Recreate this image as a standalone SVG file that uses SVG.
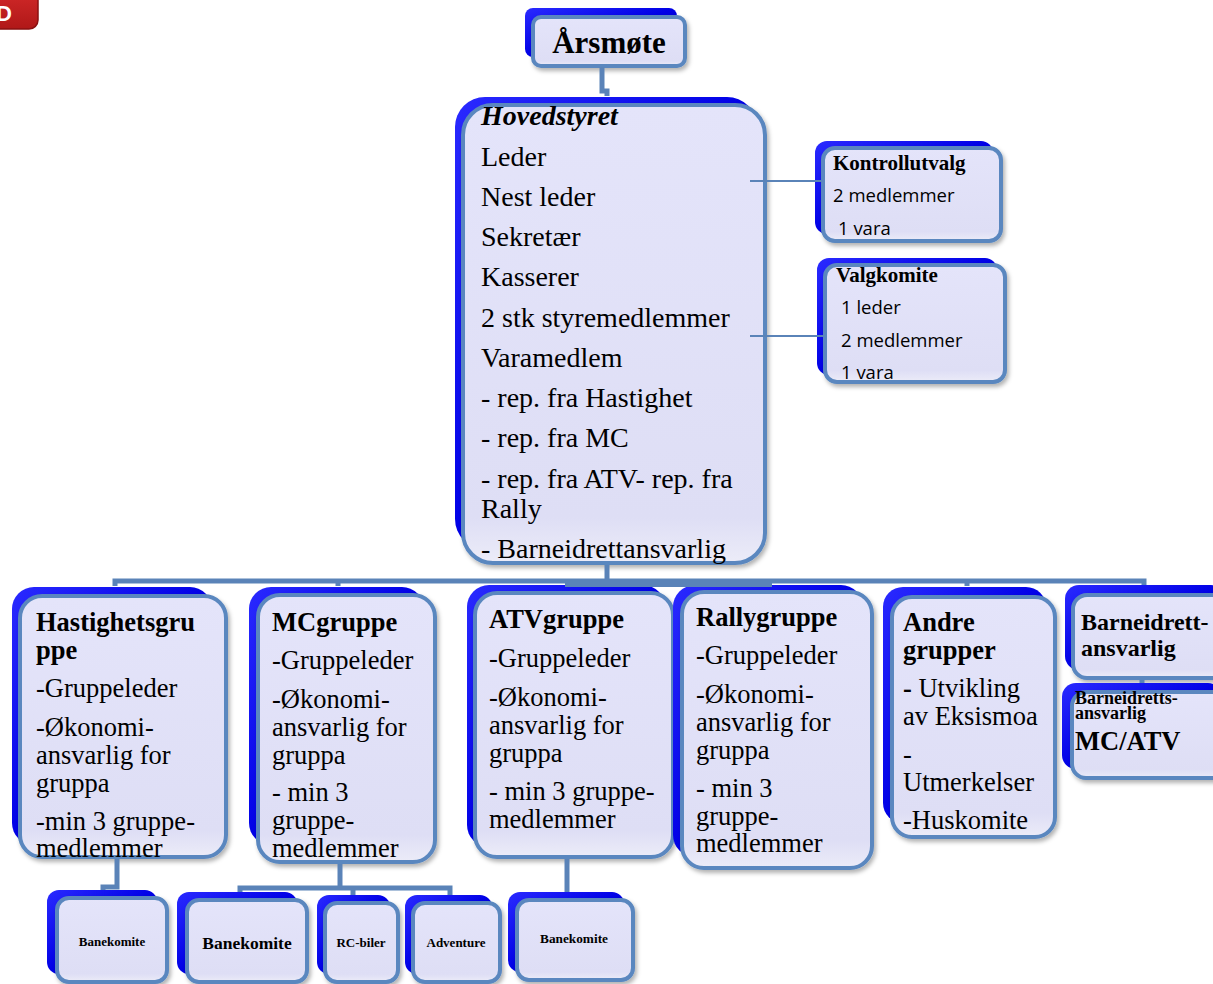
<svg xmlns="http://www.w3.org/2000/svg" width="1213" height="984" viewBox="0 0 1213 984">
<defs>
<linearGradient id="blue" x1="0" y1="0" x2="1" y2="1">
<stop offset="0" stop-color="#2a2aff"/>
<stop offset="0.5" stop-color="#0000e6"/>
<stop offset="1" stop-color="#0000a8"/>
</linearGradient>
<linearGradient id="lav" x1="0" y1="0" x2="0" y2="1">
<stop offset="0" stop-color="#e4e4fa"/>
<stop offset="0.9" stop-color="#dedef5"/>
<stop offset="1" stop-color="#ececf8"/>
</linearGradient>
<filter id="sh" x="-10%" y="-10%" width="130%" height="130%">
<feDropShadow dx="2" dy="3" stdDeviation="2" flood-color="#000" flood-opacity="0.3"/>
</filter>
<linearGradient id="red" x1="0" y1="0" x2="0" y2="1">
<stop offset="0" stop-color="#d42a2a"/>
<stop offset="1" stop-color="#b01818"/>
</linearGradient>
</defs>
<style>
.back{fill:url(#blue);}
.front{fill:url(#lav);stroke:#5a87bf;stroke-width:4;filter:url(#sh);}
.conn{fill:none;stroke:#5a83b8;stroke-width:5;}
.thin{fill:none;stroke:#5a83b8;stroke-width:2;}
.t{font-family:"Liberation Serif","Times New Roman",serif;fill:#000;}
.b{font-weight:bold;}
.s{font-family:"Open Sans","Liberation Sans",sans-serif;fill:#000;font-size:18.5px;}
.h{font-size:28px;}
.g{font-size:26.5px;}
.m{text-anchor:middle;}
</style>
<rect width="1213" height="984" fill="#ffffff"/>

<g id="badge">
<rect x="-60" y="-12" width="98" height="41" rx="9" fill="url(#red)" stroke="#8a1010" stroke-width="1.5"/>
<text x="12" y="21" text-anchor="end" font-family="Liberation Sans, sans-serif" font-weight="bold" font-size="22" fill="#ffffff">D</text>
</g>

<g id="aarsmote">
<rect class="back" x="525" y="8" width="152" height="49" rx="8"/>
<rect class="front" x="533" y="17" width="152" height="49" rx="8"/>
<text class="t b m" x="609" y="53" font-size="31">Årsmøte</text>
</g>

<g id="hovedstyret">
<rect class="back" x="455" y="97" width="302" height="452" rx="30"/>
<rect class="front" x="463" y="105" width="302" height="458" rx="30"/>
<text class="t h" x="481" y="125" font-weight="bold" font-style="italic">Hovedstyret</text>
<text class="t h" x="481" y="166">Leder</text>
<text class="t h" x="481" y="206">Nest leder</text>
<text class="t h" x="481" y="246">Sekretær</text>
<text class="t h" x="481" y="286">Kasserer</text>
<text class="t h" x="481" y="327">2 stk styremedlemmer</text>
<text class="t h" x="481" y="367">Varamedlem</text>
<text class="t h" x="481" y="407">- rep. fra Hastighet</text>
<text class="t h" x="481" y="447">- rep. fra MC</text>
<text class="t h" x="481" y="488">- rep. fra ATV- rep. fra</text>
<text class="t h" x="481" y="518">Rally</text>
<text class="t h" x="481" y="558">- Barneidrettansvarlig</text>
</g>

<g id="kontrollutvalg">
<rect class="back" x="815" y="141" width="178" height="93" rx="12"/>
<rect class="front" x="823" y="148" width="178" height="93" rx="12"/>
<text class="t b" x="833" y="170" font-size="21">Kontrollutvalg</text>
<text class="s" x="833" y="202">2 medlemmer</text>
<text class="s" x="838" y="235">1 vara</text>
</g>

<g id="valgkomite">
<rect class="back" x="817" y="258" width="180" height="117" rx="12"/>
<rect class="front" x="825" y="265" width="180" height="117" rx="12"/>
<text class="t b" x="836" y="282" font-size="21">Valgkomite</text>
<text class="s" x="841" y="314">1 leder</text>
<text class="s" x="841" y="347">2 medlemmer</text>
<text class="s" x="841" y="379">1 vara</text>
</g>

<g id="hastighetsgruppe">
<rect class="back" x="12" y="587" width="200" height="258" rx="22"/>
<rect class="front" x="20" y="596" width="206" height="261" rx="22"/>
<text class="t g b" x="36" y="631">Hastighetsgru</text>
<text class="t g b" x="36" y="659">ppe</text>
<text class="t g" x="36" y="697">-Gruppeleder</text>
<text class="t g" x="36" y="736">-Økonomi-</text>
<text class="t g" x="36" y="764">ansvarlig for</text>
<text class="t g" x="36" y="792">gruppa</text>
<text class="t g" x="36" y="830">-min 3 gruppe-</text>
<text class="t g" x="36" y="857">medlemmer</text>
</g>

<g id="mcgruppe">
<rect class="back" x="249" y="587" width="175" height="258" rx="22"/>
<rect class="front" x="258" y="595" width="177" height="267" rx="22"/>
<text class="t g b" x="272" y="631">MCgruppe</text>
<text class="t g" x="272" y="669">-Gruppeleder</text>
<text class="t g" x="272" y="708">-Økonomi-</text>
<text class="t g" x="272" y="736">ansvarlig for</text>
<text class="t g" x="272" y="764">gruppa</text>
<text class="t g" x="272" y="801">- min 3</text>
<text class="t g" x="272" y="829">gruppe-</text>
<text class="t g" x="272" y="857">medlemmer</text>
</g>

<g id="atvgruppe">
<rect class="back" x="467" y="585" width="198" height="262" rx="22"/>
<rect class="front" x="475" y="593" width="198" height="264" rx="22"/>
<text class="t g b" x="489" y="628">ATVgruppe</text>
<text class="t g" x="489" y="667">-Gruppeleder</text>
<text class="t g" x="489" y="706">-Økonomi-</text>
<text class="t g" x="489" y="734">ansvarlig for</text>
<text class="t g" x="489" y="762">gruppa</text>
<text class="t g" x="489" y="800">- min 3 gruppe-</text>
<text class="t g" x="489" y="828">medlemmer</text>
</g>

<g id="rallygruppe">
<rect class="back" x="673" y="585" width="190" height="272" rx="22"/>
<rect class="front" x="682" y="592" width="190" height="276" rx="22"/>
<text class="t g b" x="696" y="626">Rallygruppe</text>
<text class="t g" x="696" y="664">-Gruppeleder</text>
<text class="t g" x="696" y="703">-Økonomi-</text>
<text class="t g" x="696" y="731">ansvarlig for</text>
<text class="t g" x="696" y="759">gruppa</text>
<text class="t g" x="696" y="797">- min 3</text>
<text class="t g" x="696" y="825">gruppe-</text>
<text class="t g" x="696" y="852">medlemmer</text>
</g>

<g id="andregrupper">
<rect class="back" x="883" y="587" width="163" height="236" rx="20"/>
<rect class="front" x="892" y="597" width="163" height="240" rx="20"/>
<text class="t g b" x="903" y="631">Andre</text>
<text class="t g b" x="903" y="659">grupper</text>
<text class="t g" x="903" y="697"><tspan font-weight="bold">-</tspan> Utvikling</text>
<text class="t g" x="903" y="725">av Eksismoa</text>
<text class="t g" x="903" y="763">-</text>
<text class="t g" x="903" y="791">Utmerkelser</text>
<text class="t g" x="903" y="829">-Huskomite</text>
</g>

<g id="barneidrett">
<rect class="back" x="1065" y="585" width="160" height="85" rx="14"/>
<rect class="front" x="1073" y="595" width="160" height="83" rx="14"/>
<text class="t b" x="1081" y="630" font-size="24">Barneidrett-</text>
<text class="t b" x="1081" y="656" font-size="24">ansvarlig</text>
</g>

<g id="barneidrett-mcatv">
<rect class="back" x="1062" y="683" width="160" height="86" rx="14"/>
<rect class="front" x="1072" y="692" width="160" height="86" rx="14"/>
<text class="t b" x="1075" y="704" font-size="18">Barneidretts-</text>
<text class="t b" x="1075" y="719" font-size="18">ansvarlig</text>
<text class="t b" x="1075" y="750" font-size="26.5">MC/ATV</text>
</g>

<g id="banekomite-hast">
<rect class="back" x="47" y="890" width="110" height="84" rx="12"/>
<rect class="front" x="57" y="898" width="110" height="84" rx="12"/>
<text class="t b m" x="112" y="946" font-size="13">Banekomite</text>
</g>

<g id="banekomite-mc">
<rect class="back" x="177" y="892" width="120" height="82" rx="12"/>
<rect class="front" x="187" y="900" width="120" height="82" rx="12"/>
<text class="t b m" x="247" y="949" font-size="17.5">Banekomite</text>
</g>

<g id="rc-biler">
<rect class="back" x="317" y="895" width="73" height="79" rx="12"/>
<rect class="front" x="325" y="903" width="73" height="79" rx="12"/>
<text class="t b m" x="361" y="947" font-size="13">RC-biler</text>
</g>

<g id="adventure">
<rect class="back" x="405" y="895" width="87" height="79" rx="12"/>
<rect class="front" x="413" y="903" width="87" height="79" rx="12"/>
<text class="t b m" x="456" y="947" font-size="13">Adventure</text>
</g>

<g id="banekomite-atv">
<rect class="back" x="508" y="892" width="116" height="80" rx="12"/>
<rect class="front" x="517" y="900" width="116" height="80" rx="12"/>
<text class="t b m" x="574" y="943" font-size="13.3">Banekomite</text>
</g>

<g id="connectors">
<polyline class="conn" points="602,67 602,91 607,91 607,96"/>
<line class="thin" x1="750" y1="181" x2="821" y2="181"/>
<line class="thin" x1="750" y1="336" x2="823" y2="336"/>
<polyline class="conn" points="607,565 607,579"/>
<polyline class="conn" points="115,586 115,581 1144,581 1144,585"/>
<polyline class="conn" points="565,584.5 772,584.5"/>
<line class="conn" x1="338" y1="581" x2="338" y2="586"/>
<line class="conn" x1="967" y1="581" x2="967" y2="586"/>
<line class="conn" x1="1142" y1="680" x2="1142" y2="683"/>
<polyline class="conn" points="117,859 117,887 103,887 103,890"/>
<polyline class="conn" points="340,864 340,888"/>
<polyline class="conn" points="240,892 240,888 450,888 450,895"/>
<line class="conn" x1="353" y1="888" x2="353" y2="895"/>
<line class="conn" x1="567" y1="859" x2="567" y2="892"/>
</g>
</svg>
